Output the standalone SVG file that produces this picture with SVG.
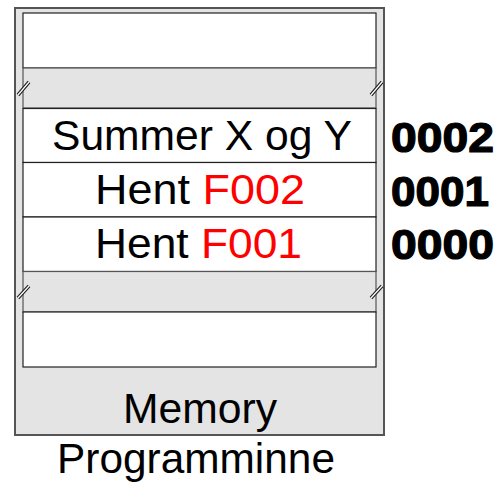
<svg xmlns="http://www.w3.org/2000/svg" width="499" height="485" viewBox="0 0 499 485">
  <style>
    .lbl { font-family: "Liberation Sans", Arial, sans-serif; font-size: 42px; fill: #000; }
    .addr { font-family: "Liberation Sans", Arial, sans-serif; font-size: 42px; font-weight: bold; fill: #000; stroke: #000; stroke-width: 1.2; }
    .red { fill: #ff0000; }
    .row { fill: #ffffff; stroke: #222; stroke-width: 1.2; }
    .band { fill: #e4e4e4; stroke: #555; stroke-width: 1.2; }
    .brk-o { stroke: #222; stroke-width: 3.5; fill: none; }
    .brk-i { stroke: #ffffff; stroke-width: 1.2; fill: none; }
  </style>

  <!-- memory block frame -->
  <g id="memory">
    <rect x="15" y="8" width="369" height="427" fill="#e4e4e4" stroke="#555" stroke-width="2"/>
    <text class="lbl" x="123" y="423" textLength="154" lengthAdjust="spacingAndGlyphs">Memory</text>
  </g>

  <!-- memory cells, top to bottom -->
  <g id="cell-top">
    <rect class="row" x="23" y="13" width="353" height="55"/>
  </g>
  <g id="gap-top">
    <rect class="band" x="23" y="68" width="353" height="40"/>
  </g>
  <g id="cell-0002">
    <rect class="row" x="23" y="108.5" width="353" height="54"/>
    <text class="lbl" x="52" y="150" textLength="300" lengthAdjust="spacingAndGlyphs">Summer X og Y</text>
  </g>
  <g id="cell-0001">
    <rect class="row" x="23" y="162.5" width="353" height="54.5"/>
    <text class="lbl" x="95" y="204" textLength="210" lengthAdjust="spacingAndGlyphs">Hent <tspan class="red">F002</tspan></text>
  </g>
  <g id="cell-0000">
    <rect class="row" x="23" y="217" width="353" height="54.5"/>
    <text class="lbl" x="95" y="258" textLength="207" lengthAdjust="spacingAndGlyphs">Hent <tspan class="red">F001</tspan></text>
  </g>
  <g id="gap-bottom">
    <rect class="band" x="23" y="271.5" width="353" height="40.5"/>
  </g>
  <g id="cell-bottom">
    <rect class="row" x="23" y="312" width="353" height="55"/>
  </g>

  <!-- break marks on the column edges -->
  <g id="breaks">
    <path class="brk-o" d="M18 95 L29 82 M371 95 L382 82 M18 298 L29 286 M371 298 L382 286"/>
    <path class="brk-i" d="M18 95 L29 82 M371 95 L382 82 M18 298 L29 286 M371 298 L382 286"/>
  </g>

  <!-- addresses -->
  <g id="addresses">
    <text class="addr" x="391" y="152" textLength="103" lengthAdjust="spacingAndGlyphs">0002</text>
    <text class="addr" x="391" y="206" textLength="98" lengthAdjust="spacingAndGlyphs">0001</text>
    <text class="addr" x="391" y="259" textLength="103" lengthAdjust="spacingAndGlyphs">0000</text>
  </g>

  <g id="caption">
    <text class="lbl" x="57" y="473" textLength="278" lengthAdjust="spacingAndGlyphs">Programminne</text>
  </g>
</svg>
